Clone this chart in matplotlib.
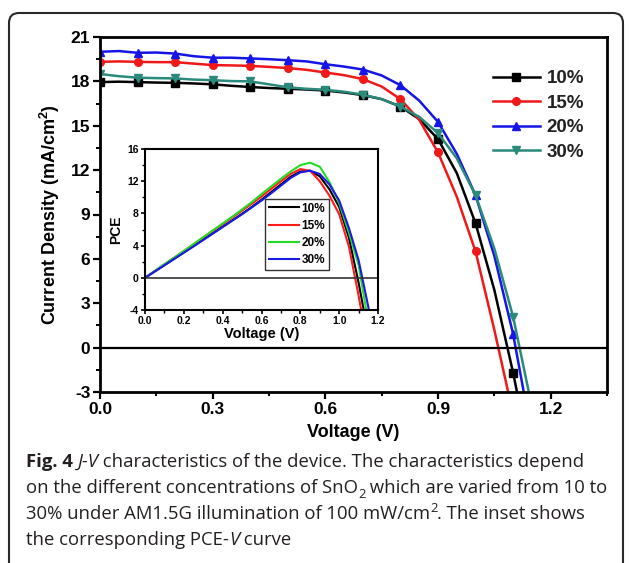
import matplotlib
matplotlib.use("Agg")
import matplotlib.pyplot as plt
from matplotlib.path import Path
from matplotlib.patches import PathPatch
from matplotlib.ticker import MultipleLocator

plt.rcParams['font.family'] = ['Liberation Sans', 'DejaVu Sans']
plt.rcParams['font.weight'] = 'bold'
plt.rcParams['mathtext.fontset'] = 'custom'
plt.rcParams['mathtext.rm'] = 'Liberation Sans:bold'
plt.rcParams['mathtext.bf'] = 'Liberation Sans:bold'
plt.rcParams['mathtext.it'] = 'Liberation Sans:bold'

# ---------------- data ----------------
labels = ["10%", "15%", "20%", "30%"]
voltage = [0.00, 0.05, 0.10, 0.15, 0.20, 0.25, 0.30, 0.35, 0.40, 0.45, 0.50, 0.55,
           0.60, 0.65, 0.70, 0.75, 0.80, 0.85, 0.90, 0.95, 1.00, 1.05, 1.10, 1.15]
j_10 = [17.95, 17.98, 17.95, 17.92, 17.90, 17.86, 17.80, 17.70, 17.62, 17.55, 17.50, 17.45,
        17.38, 17.25, 17.07, 16.80, 16.30, 15.45, 14.10, 11.80, 8.40, 3.90, -1.70, -8.0]
j_15 = [19.32, 19.35, 19.32, 19.30, 19.30, 19.20, 19.10, 19.08, 19.05, 18.98, 18.90, 18.78,
        18.60, 18.42, 18.15, 17.65, 16.80, 15.40, 13.20, 10.20, 6.50, 1.20, -4.50, -12.0]
j_20 = [20.00, 20.05, 19.93, 19.95, 19.88, 19.70, 19.60, 19.60, 19.55, 19.50, 19.43, 19.35,
        19.16, 19.00, 18.80, 18.40, 17.74, 16.70, 15.26, 13.10, 10.30, 6.20, 0.92, -6.0]
j_30 = [18.50, 18.35, 18.25, 18.22, 18.20, 18.12, 18.08, 18.02, 18.00, 17.80, 17.60, 17.50,
        17.43, 17.30, 17.10, 16.80, 16.30, 15.60, 14.50, 12.80, 10.30, 6.70, 2.09, -4.0]

inset_voltage = [0.00, 0.05, 0.10, 0.15, 0.20, 0.25, 0.30, 0.35, 0.40, 0.45, 0.50, 0.55,
                 0.60, 0.65, 0.70, 0.75, 0.80, 0.85, 0.90, 0.95, 1.00, 1.05, 1.10, 1.15, 1.20]
pce_10 = [0, 0.78, 1.57, 2.36, 3.15, 3.95, 4.75, 5.55, 6.35, 7.15, 7.95, 8.80,
          9.70, 10.65, 11.60, 12.55, 13.20, 13.30, 12.60, 11.00, 8.80, 5.00, -0.60, -7.0, -14.0]
pce_15 = [0, 0.83, 1.66, 2.50, 3.30, 4.15, 5.00, 5.85, 6.65, 7.50, 8.35, 9.20,
          10.10, 11.05, 12.00, 12.90, 13.50, 13.30, 12.00, 10.20, 7.90, 3.90, -2.20, -9.0, -15.0]
pce_20 = [0, 0.85, 1.70, 2.50, 3.35, 4.20, 5.05, 5.90, 6.75, 7.60, 8.50, 9.40,
          10.40, 11.35, 12.30, 13.20, 14.00, 14.30, 13.80, 11.90, 9.30, 5.60, 1.60, -5.5, -12.0]
pce_30 = [0, 0.78, 1.56, 2.34, 3.12, 3.90, 4.70, 5.50, 6.30, 7.10, 7.90, 8.75,
          9.60, 10.50, 11.45, 12.40, 13.10, 13.30, 12.90, 11.60, 9.60, 6.20, 2.20, -3.6, -11.0]

x_ticks = [0.0, 0.3, 0.6, 0.9, 1.2]
y_ticks = [-3, 0, 3, 6, 9, 12, 15, 18, 21]
inset_x_ticks = [0.0, 0.2, 0.4, 0.6, 0.8, 1.0, 1.2]
inset_y_ticks = [-4, 0, 4, 8, 12, 16]

# ---------------- figure ----------------
W, H = 629, 563
fig = plt.figure(figsize=(W / 100, H / 100), dpi=100)

def fx(px):
    return px / W

def fy(py):
    return 1 - py / H

# outer rounded frame (open at the bottom)
r = 10
verts = [(fx(9), fy(H + 5)), (fx(9), fy(13 + r)), (fx(9), fy(13)), (fx(9 + r), fy(13)),
         (fx(623 - r), fy(13)), (fx(623), fy(13)), (fx(623), fy(13 + r)), (fx(623), fy(H + 5))]
codes = [Path.MOVETO, Path.LINETO, Path.CURVE3, Path.CURVE3,
         Path.LINETO, Path.CURVE3, Path.CURVE3, Path.LINETO]
fig.patches.append(PathPatch(Path(verts, codes), transform=fig.transFigure,
                             fill=False, edgecolor="#2a2a2a", lw=1.5, clip_on=False))

# ---------------- main axes ----------------
ax = fig.add_axes([fx(100), fy(392), fx(507), 355 / H])
main_series = [(j_10, "black", "s"), (j_15, "#f01818", "o"),
               (j_20, "#1515e8", "^"), (j_30, "#2a8a7c", "v")]
for (jv, col, mk), lab in zip(main_series, labels):
    ax.plot(voltage, jv, color=col, lw=1.8, marker=mk, markersize=5.5,
            markevery=2, label=lab)
ax.axhline(0, color="black", lw=1.6)
ax.set_xlim(0, 1.35)
ax.set_ylim(-3, 21)
ax.set_xticks(x_ticks)
ax.set_yticks(y_ticks)
ax.set_xticklabels([f"{t:.1f}" for t in x_ticks])
ax.set_yticklabels([str(t) for t in y_ticks])
ax.xaxis.set_minor_locator(MultipleLocator(0.15))
ax.yaxis.set_minor_locator(MultipleLocator(1.5))
ax.tick_params(which="major", direction="out", length=5, width=1.6, labelsize=12.5, pad=2)
ax.tick_params(which="minor", direction="out", length=3, width=1.4)
for s in ax.spines.values():
    s.set_linewidth(2)
ax.set_xlabel("Voltage (V)", fontsize=13, fontweight="bold")
ax.set_ylabel(r"Current Density (mA/cm$^{2}$)", fontsize=13, fontweight="bold")
ax.xaxis.set_label_coords(0.5, (392 - 424) / 355)
ax.yaxis.set_label_coords((62 - 100) / 507, 0.5)

leg = ax.legend(loc="upper left", bbox_to_anchor=(fx(493), fy(70)),
                bbox_transform=fig.transFigure, frameon=False, fontsize=13.5,
                handlelength=2.5, handletextpad=0.35, labelspacing=0.4,
                borderpad=0, borderaxespad=0)
for t in leg.get_texts():
    t.set_color("#222222")

# ---------------- inset ----------------
ins = fig.add_axes([fx(145), fy(310), fx(233), 161 / H])
inset_series = [(pce_10, "black"), (pce_15, "#ff1a1a"),
                (pce_20, "#22dd22"), (pce_30, "#1a1ae6")]
for (pv, col), lab in zip(inset_series, labels):
    ins.plot(inset_voltage, pv, color=col, lw=1.5, label=lab)
ins.axhline(0, color="#333333", lw=1.2)
ins.set_xlim(0, 1.2)
ins.set_ylim(-4, 16)
ins.set_xticks(inset_x_ticks)
ins.set_yticks(inset_y_ticks)
ins.set_xticklabels([f"{t:.1f}" for t in inset_x_ticks])
ins.set_yticklabels([str(t) for t in inset_y_ticks])
ins.xaxis.set_minor_locator(MultipleLocator(0.1))
ins.yaxis.set_minor_locator(MultipleLocator(2))
ins.tick_params(which="major", direction="out", length=3, width=1.2, labelsize=7.5, pad=1.5)
ins.tick_params(which="minor", direction="out", length=2, width=1.0)
for s in ins.spines.values():
    s.set_linewidth(1.5)
ins.set_xlabel("Voltage (V)", fontsize=10.5, fontweight="bold")
ins.set_ylabel("PCE", fontsize=10, fontweight="bold")
ins.xaxis.set_label_coords(0.5, (310 - 327) / 161)
ins.yaxis.set_label_coords((123 - 145) / 233, 0.5)
ileg = ins.legend(loc="upper left", bbox_to_anchor=(fx(265), fy(199)),
                  bbox_transform=fig.transFigure, fontsize=8.5, frameon=True,
                  fancybox=False, edgecolor="#333333", handlelength=2.6,
                  handletextpad=0.2, labelspacing=0.45, borderpad=0.3,
                  borderaxespad=0)
ileg.get_frame().set_linewidth(1.0)
ileg.get_frame().set_alpha(1)

# ---------------- caption ----------------
cap_font = ['Open Sans', 'DejaVu Sans']
cap_size = 13.3
cap_color = "#231f20"
lines = [
    [("Fig. 4", "bold", "normal", 0, 1.0), (" ", "normal", "normal", 0, 1.0),
     ("J-V", "normal", "italic", 0, 1.0),
     (" characteristics of the device. The characteristics depend", "normal", "normal", 0, 1.0)],
    [("on the different concentrations of SnO", "normal", "normal", 0, 1.0),
     ("2", "normal", "normal", -5, 0.7),
     (" which are varied from 10 to", "normal", "normal", 0, 1.0)],
    [("30% under AM1.5G illumination of 100 mW/cm", "normal", "normal", 0, 1.0),
     ("2", "normal", "normal", 7, 0.7),
     (". The inset shows", "normal", "normal", 0, 1.0)],
    [("the corresponding PCE-", "normal", "normal", 0, 1.0),
     ("V", "normal", "italic", 0, 1.0),
     (" curve", "normal", "normal", 0, 1.0)],
]
baselines = [467, 493, 519, 545]
fig.canvas.draw()
renderer = fig.canvas.get_renderer()
for pieces, base in zip(lines, baselines):
    x = 26.0
    for txt, wt, st, dy, sc in pieces:
        t = fig.text(fx(x), fy(base - dy), txt, family=cap_font, weight=wt, style=st,
                     fontsize=cap_size * sc, color=cap_color, ha="left", va="baseline")
        bb = t.get_window_extent(renderer=renderer)
        x += bb.width

fig.savefig("out.png", dpi=100)
